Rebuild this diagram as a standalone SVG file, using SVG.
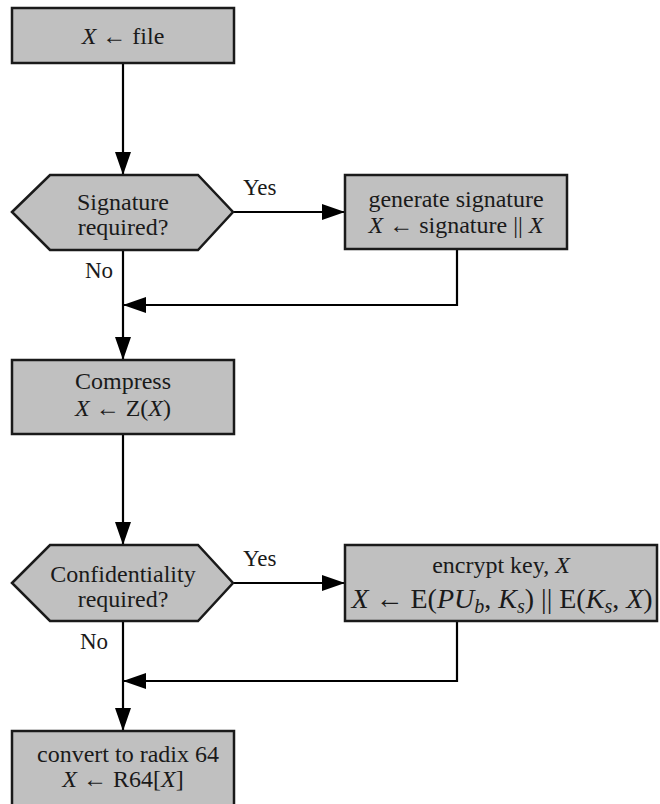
<svg xmlns="http://www.w3.org/2000/svg" width="660" height="804" viewBox="0 0 660 804">
<defs>
<style>
.box{fill:#c0c0c0;stroke:#1a1a1a;stroke-width:2.5}
.t{font-size:24px;fill:#1a1a1a;text-anchor:middle}
.lbl{font-size:23px;fill:#1a1a1a}
.i{font-style:italic}
.ln{fill:none;stroke:#000;stroke-width:2.2}
</style>
<marker id="ah" markerUnits="userSpaceOnUse" markerWidth="24" markerHeight="18" refX="23" refY="8" orient="auto">
<path d="M0,0 L23,8 L0,16 z" fill="#000"/>
</marker>
</defs>
<rect width="660" height="804" fill="#fff"/>
<g font-family="Liberation Serif, DejaVu Serif, serif">
<g id="connectors">
<line class="ln" x1="123" y1="63" x2="123" y2="175" marker-end="url(#ah)"/>
<line class="ln" x1="233" y1="212" x2="345" y2="212" marker-end="url(#ah)"/>
<line class="ln" x1="123" y1="250" x2="123" y2="360" marker-end="url(#ah)"/>
<polyline class="ln" points="457,249 457,305 123,305" marker-end="url(#ah)"/>
<line class="ln" x1="123" y1="434" x2="123" y2="545" marker-end="url(#ah)"/>
<line class="ln" x1="233" y1="583" x2="345" y2="583" marker-end="url(#ah)"/>
<line class="ln" x1="123" y1="621" x2="123" y2="731" marker-end="url(#ah)"/>
<polyline class="ln" points="457,621 457,681 123,681" marker-end="url(#ah)"/>
<text class="lbl" x="243" y="195">Yes</text>
<text class="lbl" x="85" y="278">No</text>
<text class="lbl" x="243" y="566">Yes</text>
<text class="lbl" x="80" y="649">No</text>
</g>
<g id="n-file">
<rect class="box" x="12" y="8" width="222" height="55"/>
<text class="t" x="123" y="44"><tspan class="i">X</tspan> ← file</text>
</g>
<g id="n-sigq">
<polygon class="box" points="12,212 50,175 198,175 233,212 198,250 50,250"/>
<text class="t" x="123" y="210">Signature</text>
<text class="t" x="123" y="235">required?</text>
</g>
<g id="n-gensig">
<rect class="box" x="345" y="175" width="222" height="74"/>
<text class="t" x="456" y="207">generate signature</text>
<text class="t" x="456" y="233"><tspan class="i">X</tspan> ← signature || <tspan class="i">X</tspan></text>
</g>
<g id="n-compress">
<rect class="box" x="12" y="360" width="222" height="74"/>
<text class="t" x="123" y="389">Compress</text>
<text class="t" x="123" y="416"><tspan class="i">X</tspan> ← Z(<tspan class="i">X</tspan>)</text>
</g>
<g id="n-confq">
<polygon class="box" points="12,583 50,545 198,545 233,583 198,621 50,621"/>
<text class="t" x="123" y="582">Confidentiality</text>
<text class="t" x="123" y="607">required?</text>
</g>
<g id="n-encrypt">
<rect class="box" x="345" y="545" width="312" height="76"/>
<text class="t" x="501" y="573">encrypt key, <tspan class="i">X</tspan></text>
<text class="t" x="502" y="608" style="font-size:28px"><tspan class="i">X</tspan> ← E(<tspan class="i">PU</tspan><tspan class="i" dy="5" style="font-size:20px">b</tspan><tspan dy="-5">, </tspan><tspan class="i">K</tspan><tspan class="i" dy="5" style="font-size:20px">s</tspan><tspan dy="-5">) || E(</tspan><tspan class="i">K</tspan><tspan class="i" dy="5" style="font-size:20px">s</tspan><tspan dy="-5">, </tspan><tspan class="i">X</tspan>)</text>
</g>
<g id="n-radix">
<rect class="box" x="12" y="731" width="222" height="90"/>
<text class="t" x="128" y="762">convert to radix 64</text>
<text class="t" x="123" y="787"><tspan class="i">X</tspan> ← R64[<tspan class="i">X</tspan>]</text>
</g>
</g>
</svg>
